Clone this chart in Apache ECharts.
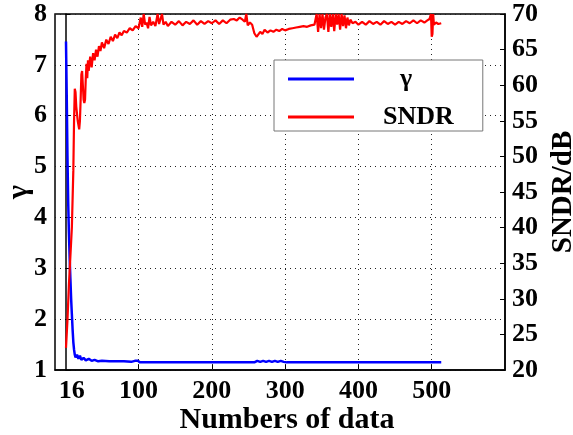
<!DOCTYPE html>
<html>
<head>
<meta charset="utf-8">
<script src="https://cdn.jsdelivr.net/npm/echarts@6/dist/echarts.min.js"></script>
<style>
  html, body { margin: 0; padding: 0; background: #fff; }
  #chart { width: 573px; height: 435px; }
</style>
</head>
<body>
<div id="chart"></div>
<script>
// x positions where labels sit and what they read
var xTickPos = [9, 100, 200, 300, 400, 500];
var xTickLabels = ['16', '100', '200', '300', '400', '500'];
var xGridPos = [100, 200, 300, 400, 500];

// gamma vs number of data
var gammaX = [1, 2, 3, 4, 5, 6, 7, 8, 9, 10, 11, 12, 13, 14, 15, 16, 18, 20, 22, 25, 28, 32, 36, 40, 45, 50, 60, 70, 80, 90, 95, 97, 99, 102, 110, 150, 200, 258, 262, 266, 270, 274, 278, 282, 286, 290, 294, 298, 302, 350, 400, 450, 513];
var gammaY = [7.46, 6.4, 5.2, 4.3, 3.7, 3.2, 2.8, 2.4, 2.1, 1.8, 1.55, 1.4, 1.3, 1.25, 1.22, 1.3, 1.22, 1.28, 1.2, 1.24, 1.19, 1.22, 1.18, 1.2, 1.17, 1.18, 1.17, 1.17, 1.17, 1.16, 1.18, 1.16, 1.18, 1.15, 1.15, 1.15, 1.15, 1.15, 1.18, 1.16, 1.18, 1.16, 1.18, 1.16, 1.18, 1.16, 1.18, 1.16, 1.15, 1.15, 1.15, 1.15, 1.15];

// SNDR (dB) vs number of data
var sndrX = [1, 3, 5, 7, 9, 10, 11, 12, 13, 14, 15, 17, 19, 20, 21, 22, 23, 24, 25, 26, 27, 28, 29, 30, 31, 32, 34, 36, 38, 40, 42, 44, 46, 48, 50, 53, 56, 59, 62, 65, 68, 71, 74, 77, 80, 84, 88, 92, 96, 100, 103, 105, 107, 109, 111, 113, 115, 117, 120, 123, 126, 128, 130, 132, 134, 137, 140, 145, 150, 155, 160, 165, 170, 175, 180, 185, 190, 195, 200, 205, 210, 215, 220, 225, 230, 234, 238, 242, 245, 247, 249, 252, 255, 258, 261, 263, 266, 269, 272, 276, 280, 284, 288, 292, 296, 300, 305, 310, 315, 320, 325, 330, 335, 340, 343, 345, 347, 349, 351, 353, 355, 357, 359, 361, 363, 365, 367, 369, 371, 373, 375, 377, 379, 381, 383, 385, 387, 389, 392, 396, 400, 405, 410, 415, 420, 425, 430, 435, 440, 445, 450, 455, 460, 465, 470, 475, 480, 485, 490, 494, 497, 499, 500, 501, 502, 503, 506, 509, 513];
var sndrY = [23.1, 27, 32, 36, 40, 44, 48, 55, 59.5, 59, 57, 55, 53.8, 55, 58, 61.5, 62, 60, 58, 57.5, 58, 61, 63, 61, 63.5, 62, 64, 62.5, 64.5, 63.5, 65, 64, 65.5, 64.8, 66, 65.2, 66.4, 65.8, 66.8, 66.2, 67.1, 66.6, 67.4, 67, 67.6, 67.4, 68, 67.7, 68.3, 68, 69.5, 68.2, 70, 68.5, 68.8, 68, 69.6, 68.4, 68.9, 68.3, 70, 68.6, 68.8, 70, 68.5, 68.9, 68.3, 68.9, 68.5, 69, 68.4, 68.9, 68.6, 69.1, 68.5, 69, 68.6, 69, 68.7, 69.1, 68.6, 69.1, 68.7, 69.2, 69.3, 69.1, 69.5, 69.2, 68.9, 70, 68.4, 68.8, 68.5, 67.3, 66.8, 66.6, 67.5, 67.2, 67.8, 67.4, 67.7, 67.5, 67.8, 67.6, 67.9, 67.7, 67.9, 68, 68.1, 68.2, 68.3, 68.2, 68.4, 68.5, 70, 67.5, 70, 68, 70, 67.8, 69.5, 70, 67.5, 70, 68.2, 70, 67.6, 70, 68.5, 70, 67.8, 70, 68.3, 69.8, 68, 69.5, 68.4, 69.2, 68.7, 68.9, 68.5, 68.9, 68.5, 69, 68.6, 68.9, 68.5, 69, 68.6, 68.9, 68.5, 68.9, 68.6, 69, 68.7, 69.1, 68.7, 69.1, 68.8, 69.1, 69.3, 70, 66.8, 67.2, 70, 68.5, 68.8, 68.6, 68.7];

function pairs(xs, ys) {
    var out = [];
    for (var i = 0; i < xs.length; i++) out.push([xs[i], ys[i]]);
    return out;
}

var font = 'Liberation Serif';
var chart = echarts.init(document.getElementById('chart'), null, {renderer: 'canvas'});

var option = {
    backgroundColor: '#fff',
    animation: false,
    textStyle: {fontFamily: font},
    grid: {
        left: 55, right: 68, top: 14, bottom: 65,
        outerBoundsMode: 'none',
        containLabel: false,
        show: true, borderColor: '#000', borderWidth: 1.5
    },
    legend: {
        orient: 'vertical',
        left: 274, top: 60,
        padding: [6, 29, 1, 14],
        itemGap: 12,
        itemWidth: 66,
        itemHeight: 3,
        icon: 'rect',
        backgroundColor: '#fff',
        borderColor: '#777',
        borderWidth: 1,
        formatter: function (name) {
            return name === 'γ' ? '{g|' + name + '}' : '{t|' + name + '}';
        },
        textStyle: {
            rich: {
                g: {fontFamily: font, fontSize: 26, fontWeight: 'bold', color: '#000', lineHeight: 26, padding: [0, 0, 0, 41]},
                t: {fontFamily: font, fontSize: 26, fontWeight: 'bold', color: '#000', lineHeight: 26, padding: [0, 0, 0, 24]}
            }
        },
        data: ['γ', 'SNDR']
    },
    xAxis: {
        type: 'value',
        min: -14, max: 600,
        axisLine: {lineStyle: {color: '#000', width: 1.5}},
        axisTick: {show: true, inside: true, length: 5, customValues: xGridPos, lineStyle: {color: '#000'}},
        axisLabel: {
            customValues: xTickPos,
            margin: 8,
            color: '#000', fontFamily: font, fontSize: 26, fontWeight: 'bold',
            formatter: function (v) {
                var i = xTickPos.indexOf(v);
                return i >= 0 ? xTickLabels[i] : '';
            }
        },
        splitLine: {show: false},
        name: 'Numbers of data',
        nameLocation: 'middle',
        nameMoveOverlap: false,
        nameGap: 35,
        nameTextStyle: {color: '#000', fontFamily: font, fontSize: 30, fontWeight: 'bold', padding: [0, 0, 0, 14]}
    },
    yAxis: [{
        type: 'value',
        min: 1, max: 8, interval: 1,
        position: 'left',
        axisLine: {show: true, lineStyle: {color: '#000', width: 1.5}},
        axisTick: {show: true, inside: true, length: 5, lineStyle: {color: '#000'}},
        axisLabel: {margin: 8, color: '#000', fontFamily: font, fontSize: 26, fontWeight: 'bold'},
        splitLine: {show: true, lineStyle: {color: '#222', width: 1, type: [1, 4]}},
        name: 'γ',
        nameLocation: 'middle',
        nameMoveOverlap: false,
        nameGap: 21,
        nameTextStyle: {color: '#000', fontFamily: font, fontSize: 30, fontWeight: 'bold'}
    }, {
        type: 'value',
        min: 20, max: 70, interval: 5,
        position: 'right',
        axisLine: {show: true, lineStyle: {color: '#000', width: 1.5}},
        axisTick: {show: true, inside: true, length: 5, lineStyle: {color: '#000'}},
        axisLabel: {margin: 7, color: '#000', fontFamily: font, fontSize: 26, fontWeight: 'bold'},
        splitLine: {show: false},
        name: 'SNDR/dB',
        nameLocation: 'middle',
        nameMoveOverlap: false,
        nameGap: 44,
        nameRotate: 90,
        nameTextStyle: {color: '#000', fontFamily: font, fontSize: 29, fontWeight: 'bold'}
    }],
    series: [
        {
            // holds the vertical dotted grid lines
            type: 'line',
            data: [],
            z: 1,
            silent: true,
            markLine: {
                z: 1,
                silent: true,
                symbol: 'none',
                label: {show: false},
                lineStyle: {color: '#222', width: 1, type: [1, 4]},
                data: xGridPos.map(function (v) { return {xAxis: v}; })
            }
        },
        {
            name: 'γ',
            type: 'line',
            yAxisIndex: 0,
            data: pairs(gammaX, gammaY),
            showSymbol: false,
            symbol: 'none',
            z: 3,
            color: '#0000ff',
            lineStyle: {color: '#0000ff', width: 2.5}
        },
        {
            name: 'SNDR',
            type: 'line',
            yAxisIndex: 1,
            data: pairs(sndrX, sndrY),
            showSymbol: false,
            symbol: 'none',
            z: 4,
            color: '#ff0000',
            lineStyle: {color: '#ff0000', width: 2.2}
        }
    ]
};

chart.setOption(option);
</script>
</body>
</html>
